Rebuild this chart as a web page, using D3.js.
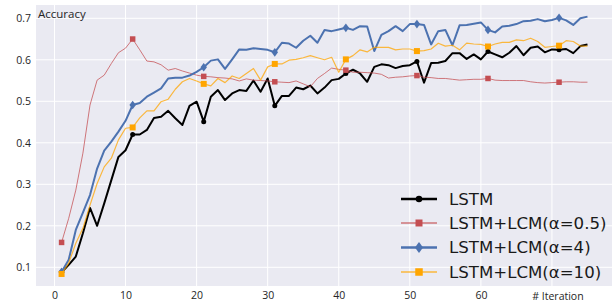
<!DOCTYPE html>
<html><head><meta charset="utf-8">
<script src="https://cdn.jsdelivr.net/npm/d3@7"></script>
<style>body{margin:0;background:#fff}svg{display:block}</style>
</head><body><svg id="c" width="615" height="307"></svg>
<script>
const iterations = d3.range(1, 76);
const lstm = [0.088,0.106,0.126,0.182,0.243,0.200,0.254,0.310,0.366,0.382,
0.420,0.420,0.431,0.460,0.463,0.477,0.459,0.443,0.489,0.499,
0.451,0.511,0.527,0.503,0.519,0.527,0.525,0.550,0.523,0.555,
0.489,0.513,0.513,0.533,0.529,0.538,0.519,0.533,0.551,0.554,
0.567,0.576,0.567,0.547,0.583,0.589,0.587,0.580,0.585,0.587,
0.596,0.545,0.592,0.593,0.597,0.616,0.616,0.602,0.613,0.601,
0.620,0.613,0.606,0.617,0.633,0.611,0.629,0.632,0.618,0.625,
0.624,0.626,0.616,0.633,0.637];
const lcm05 = [0.160,0.218,0.286,0.375,0.491,0.551,0.563,0.591,0.617,0.628,
0.650,0.624,0.597,0.595,0.588,0.575,0.579,0.573,0.568,0.563,
0.560,0.559,0.557,0.556,0.554,0.549,0.554,0.551,0.550,0.549,
0.547,0.546,0.545,0.549,0.542,0.535,0.555,0.567,0.580,0.577,
0.575,0.570,0.570,0.569,0.568,0.565,0.556,0.558,0.559,0.561,
0.562,0.558,0.557,0.555,0.555,0.553,0.551,0.552,0.553,0.553,
0.555,0.551,0.550,0.550,0.550,0.550,0.547,0.545,0.544,0.545,
0.546,0.547,0.547,0.546,0.546];
const lcm4 = [0.089,0.118,0.190,0.232,0.274,0.338,0.381,0.403,0.427,0.453,
0.491,0.496,0.511,0.521,0.531,0.555,0.557,0.557,0.562,0.571,
0.582,0.598,0.601,0.578,0.601,0.625,0.624,0.628,0.626,0.624,
0.618,0.641,0.639,0.629,0.646,0.658,0.641,0.672,0.669,0.673,
0.677,0.672,0.681,0.680,0.621,0.660,0.669,0.681,0.669,0.686,
0.686,0.684,0.637,0.669,0.672,0.635,0.683,0.684,0.687,0.690,
0.672,0.666,0.680,0.682,0.686,0.693,0.694,0.698,0.693,0.696,
0.701,0.695,0.684,0.700,0.704];
const lcm10 = [0.084,0.110,0.158,0.194,0.250,0.302,0.342,0.363,0.407,0.435,
0.437,0.460,0.477,0.477,0.499,0.505,0.529,0.547,0.555,0.549,
0.542,0.537,0.555,0.545,0.561,0.555,0.567,0.579,0.551,0.583,
0.590,0.590,0.599,0.601,0.605,0.610,0.605,0.600,0.606,0.570,
0.601,0.610,0.624,0.619,0.630,0.630,0.630,0.624,0.626,0.626,
0.621,0.622,0.626,0.640,0.633,0.635,0.624,0.640,0.638,0.637,
0.632,0.638,0.642,0.642,0.648,0.646,0.652,0.644,0.630,0.632,
0.634,0.646,0.644,0.633,0.633];
const seriesNames = ["LSTM","LSTM+LCM(α=0.5)","LSTM+LCM(α=4)","LSTM+LCM(α=10)"];
const xTicks = [0,10,20,30,40,50,60];
const yTicks = [0.1,0.2,0.3,0.4,0.5,0.6,0.7];
const yLabel = "Accuracy";
const xLabel = "# Iteration";

const svg = d3.select("#c");
const L=36, R=612, T=5, B=286;
const x = d3.scaleLinear().domain([-2.6, 78.45]).range([L, R]);
const y = d3.scaleLinear().domain([0.055, 0.732]).range([B, T]);

svg.append("rect").attr("x",L).attr("y",T).attr("width",R-L).attr("height",B-T).attr("fill","#EAEAF2");

const g = svg.append("g");
// grid
g.selectAll(".vg").data(xTicks.concat([70])).join("line")
  .attr("x1",d=>x(d)).attr("x2",d=>x(d)).attr("y1",T).attr("y2",B)
  .attr("stroke","#fff").attr("stroke-width",1);
g.selectAll(".hg").data(yTicks).join("line")
  .attr("x1",L).attr("x2",R).attr("y1",d=>y(d)).attr("y2",d=>y(d))
  .attr("stroke","#fff").attr("stroke-width",1);

const font = "'Open Sans', sans-serif";
// axes via d3
const xAxis = d3.axisBottom(x).tickValues(xTicks).tickSize(0).tickPadding(6).tickFormat(d3.format("d"));
const xa = svg.append("g").attr("transform",`translate(0,${B})`).call(xAxis);
xa.select(".domain").remove();
xa.selectAll("text").attr("font-family",font).attr("font-size","10.5px").attr("fill","#262626");
const yAxis = d3.axisLeft(y).tickValues(yTicks).tickSize(0).tickPadding(5).tickFormat(d3.format(".1f"));
const ya = svg.append("g").attr("transform",`translate(${L},0)`).call(yAxis);
ya.select(".domain").remove();
ya.selectAll("text").attr("font-family",font).attr("font-size","10.5px").attr("fill","#262626");

svg.append("text").attr("x",x(70)+6).attr("y",B+14).attr("text-anchor","middle")
  .attr("font-family",font).attr("font-size","10.5px").attr("fill","#262626").text(xLabel);
svg.append("text").attr("x",L+2).attr("y",T+13)
  .attr("font-family",font).attr("font-size","11.5px").attr("fill","#262626").text(yLabel);

const styles = [
  {data:lstm, color:"#000", lineColor:"#000", width:2, marker:"circle", ms:5, op:1},
  {data:lcm05, color:"#C44E52", lineColor:"#C44E52", width:1, marker:"square", ms:5.5, op:0.75},
  {data:lcm4, color:"#4C72B0", lineColor:"#4C72B0", width:2, marker:"diamond", ms:6, op:1},
  {data:lcm10, color:"#FFA500", lineColor:"#FFA500", width:1.2, marker:"square", ms:6, op:0.75}
];
const line = d3.line().x((d,i)=>x(iterations[i])).y(d=>y(d));
function drawMarker(sel, type, cx, cy, s, color){
  if(type==="circle") sel.append("circle").attr("cx",cx).attr("cy",cy).attr("r",s/2).attr("fill",color);
  else if(type==="square") sel.append("rect").attr("x",cx-s/2).attr("y",cy-s/2).attr("width",s).attr("height",s).attr("fill",color);
  else { const h=s*0.72; sel.append("path").attr("d",`M${cx},${cy-h}L${cx+h*0.75},${cy}L${cx},${cy+h}L${cx-h*0.75},${cy}Z`).attr("fill",color); }
}
const clip = svg.append("clipPath").attr("id","pc").append("rect").attr("x",L).attr("y",T).attr("width",R-L).attr("height",B-T);
const pg = svg.append("g").attr("clip-path","url(#pc)");
styles.forEach(s=>{
  pg.append("path").attr("d",line(s.data)).attr("fill","none").attr("stroke",s.lineColor)
    .attr("stroke-width",s.width).attr("stroke-opacity",s.op).attr("stroke-linejoin","round");
  s.data.forEach((v,i)=>{ if(i%10===0) drawMarker(pg, s.marker, x(iterations[i]), y(v), s.ms, s.color); });
});

// legend
const lg = svg.append("g");
const rowY = [199, 223, 247.5, 272];
styles.forEach((s,k)=>{
  const yy = rowY[k];
  lg.append("line").attr("x1",401).attr("x2",437).attr("y1",yy).attr("y2",yy)
    .attr("stroke",s.lineColor).attr("stroke-width",s.width+0.4).attr("stroke-opacity",s.op);
  drawMarker(lg, s.marker, 419, yy, s.ms+1.5, s.color);
  lg.append("text").attr("x",449).attr("y",yy).attr("dy","0.36em")
    .attr("font-family","'DejaVu Sans', sans-serif").attr("font-size","16.6px").attr("fill","#1a1a1a").text(seriesNames[k]);
});
</script></body></html>
